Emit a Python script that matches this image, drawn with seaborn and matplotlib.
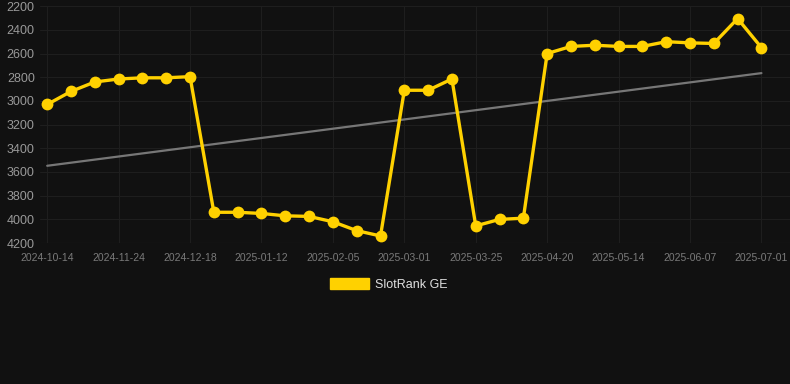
import numpy as np
import pandas as pd
import seaborn as sns
import matplotlib.pyplot as plt
from matplotlib.patches import Patch

# ranks, one point per snapshot;
# only every third snapshot has a date label on the axis
rank = [3030, 2920, 2840, 2815, 2805, 2805, 2795,
        3940, 3940, 3950, 3970, 3975, 4020, 4095, 4140,
        2910, 2910, 2815,
        4055, 4000, 3990,
        2600, 2540, 2530, 2540, 2540, 2500, 2510, 2515, 2305, 2550]
tick_labels = ['2024-10-14', '2024-11-24', '2024-12-18', '2025-01-12',
               '2025-02-05', '2025-03-01', '2025-03-25', '2025-04-20',
               '2025-05-14', '2025-06-07', '2025-07-01']
series_name = 'SlotRank GE'

df = pd.DataFrame({'idx': np.arange(len(rank)), 'rank': rank})

bg = '#111111'
gold = '#FFD100'

sns.set_style('dark')
plt.rcParams['font.family'] = ['Liberation Sans', 'DejaVu Sans']

fig = plt.figure(figsize=(7.9, 3.84), dpi=100, facecolor=bg)
ax = fig.add_axes([0.051, 0.367, 0.949, 0.617])
ax.set_facecolor(bg)

# trend line (least squares fit)
coef = np.polyfit(df['idx'], df['rank'], 1)
trend = np.polyval(coef, df['idx'])
sns.lineplot(x=df['idx'], y=trend, ax=ax, color='#777777', linewidth=1.6, zorder=2)

sns.lineplot(data=df, x='idx', y='rank', ax=ax, color=gold, linewidth=2.4,
             marker='o', markersize=8.5, markeredgewidth=0, zorder=3)

ax.set_ylim(4200, 2200)
ax.set_xlim(-0.29, 31.2)
ax.set_yticks(range(2200, 4201, 200))
ax.set_xticks(range(0, len(rank), 3))
ax.set_xticklabels(tick_labels)
ax.tick_params(axis='y', colors='#999999', labelsize=9, length=0, pad=4)
ax.tick_params(axis='x', colors='#7a7a7a', labelsize=7.5, length=0, pad=7)
ax.grid(True, color='#1e1e1e', linewidth=0.8)
ax.axhline(4200, color='#2a2a2a', linewidth=0.8, zorder=1)
for s in ax.spines.values():
    s.set_visible(False)
ax.set_xlabel('')
ax.set_ylabel('')
if ax.get_legend():
    ax.get_legend().remove()

fig.legend(handles=[Patch(color=gold, label=series_name)], loc='center',
           bbox_to_anchor=(0.492, 0.26), frameon=False, labelcolor='#e0e0e0',
           fontsize=9, handlelength=3.1, handleheight=0.95, handletextpad=0.5)

fig.savefig('out.png', dpi=100, facecolor=bg)
